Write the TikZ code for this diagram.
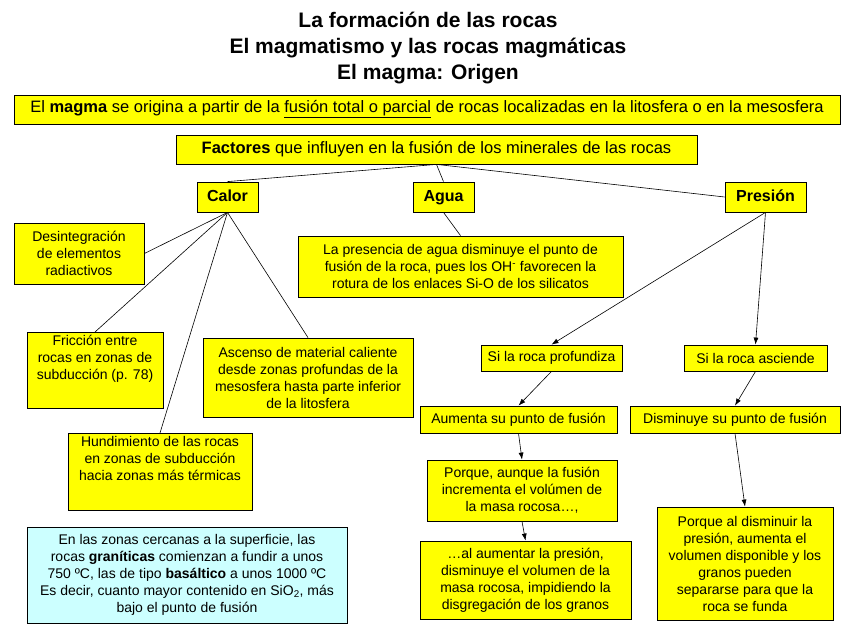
\documentclass[tikz,border=0pt]{standalone}
\usepackage{fontspec}
\setmainfont{Liberation Sans}
\usepackage{tikz}
\usetikzlibrary{positioning,arrows.meta}
\definecolor{mapyellow}{RGB}{255,255,0}
\definecolor{mapblue}{RGB}{204,255,255}
\newcommand{\txt}{\fontsize{14bp}{17bp}\selectfont}
\tikzset{
  box/.style={draw=black,line width=0.8bp,fill=mapyellow,align=center,
              font=\txt,inner sep=3bp},
  link/.style={line width=0.6bp,black},
  arr/.style={-{Latex[length=7bp,width=5bp]},line width=0.6bp,black}
}

\begin{document}
\begin{tikzpicture}[x=1bp,y=-1bp,
  head/.style={box,font=\fontsize{16bp}{19bp}\selectfont\bfseries,text height=12bp,text depth=3bp},
  note/.style={box,fill=mapblue}]
  \useasboundingbox (0,0) rectangle (851,636);
  \node[align=center,font=\fontsize{21bp}{26bp}\selectfont\bfseries] (title) at (428,48)
    {La formación de las rocas\\El magmatismo y las rocas magmáticas\\El magma: Origen};
  \node[box,font=\fontsize{16.5bp}{19bp}\selectfont,minimum width=826bp,minimum height=29bp] (magma) at (427,109.5)
    {El \textbf{magma} se origina a partir de la \underline{fusión total o parcial} de rocas localizadas en la litosfera o en la mesosfera};
  \node[box,font=\fontsize{16.5bp}{19bp}\selectfont,minimum width=521bp,minimum height=29bp] (fac) at (436.5,149.5)
    {\textbf{Factores} que influyen en la fusión de los minerales de las rocas};
  % factores
  \node[head,minimum width=61bp,minimum height=30bp] (calor) at (227.5,197) {Calor};
  \node[head,minimum width=61bp,minimum height=30bp] (agua) at (443.5,197) {Agua};
  \node[head,minimum width=81bp,minimum height=30bp] (presion) at (765.5,197) {Presión};
  % calor
  \node[box,minimum width=130bp,minimum height=61bp] (desint) at (79,253.5)
    {Desintegración\\de elementos\\radiactivos};
  \node[box,minimum width=136bp,text depth=26bp,anchor=north] (fric) at (95,332)
    {Fricción entre\\rocas en zonas de\\subducción (p. 78)};
  \node[box,minimum width=210bp,minimum height=79bp] (asc) at (308,377.5)
    {Ascenso de material caliente\\desde zonas profundas de la\\mesosfera hasta parte inferior\\de la litosfera};
  \node[box,minimum width=184bp,text depth=27bp,anchor=north] (hund) at (160,433)
    {Hundimiento de las rocas\\en zonas de subducción\\hacia zonas más térmicas};
  \node[note,minimum width=320bp,minimum height=96bp] (temp) at (187,575)
    {En las zonas cercanas a la superficie, las\\rocas \textbf{graníticas} comienzan a fundir a unos\\750 ºC, las de tipo \textbf{basáltico} a unos 1000 ºC\\Es decir, cuanto mayor contenido en SiO\textsubscript{2}, más\\bajo el punto de fusión};
  % agua
  \node[box,minimum width=325bp,minimum height=61bp] (aguatxt) at (460.5,266.5)
    {La presencia de agua disminuye el punto de\\fusión de la roca, pues los OH\textsuperscript{-} favorecen la\\rotura de los enlaces Si-O de los silicatos};
  % presion
  \node[box,minimum width=141bp,minimum height=26bp] (prof) at (551.5,358) {Si la roca profundiza};
  \node[box,minimum width=143bp,minimum height=26bp] (sube) at (755.5,358) {Si la roca asciende};
  \node[box,minimum width=197bp,minimum height=27bp] (aum) at (518.5,419.5) {Aumenta su punto de fusión};
  \node[box,minimum width=210bp,minimum height=27bp] (dism) at (735,419.5) {Disminuye su punto de fusión};
  \node[box,minimum width=190bp,minimum height=61bp] (porq1) at (522,490.5)
    {Porque, aunque la fusión\\incrementa el volúmen de\\la masa rocosa…,};
  \node[box,minimum width=211bp,minimum height=78bp] (comp) at (525.5,580)
    {…al aumentar la presión,\\disminuye el volumen de la\\masa rocosa, impidiendo la\\disgregación de los granos};
  \node[box,minimum width=176bp,minimum height=113bp] (porq2) at (745,563.5)
    {Porque al disminuir la\\presión, aumenta el\\volumen disponible y los\\granos pueden\\separarse para que la\\roca se funda};
  % conectores
  \draw[link] (fac.south) -- (calor.north);
  \draw[link] (fac.south) -- (agua.north);
  \draw[link] (fac.south) -- (presion.west);
  \draw[link] (calor.south) -- (desint.east);
  \draw[link] (calor.south) -- (fric.north);
  \draw[link] (calor.south) -- (hund.north);
  \draw[link] (calor.south) -- (asc.north);
  \draw[link] (agua.south) -- (aguatxt.north);
  \draw[arr] (presion.south) -- (prof.north);
  \draw[arr] (presion.south) -- (sube.north);
  \draw[arr] (prof.south) -- (aum.north);
  \draw[arr] (sube.south) -- (dism.north);
  \draw[arr] (aum.south) -- (porq1.north);
  \draw[arr] (porq1.south) -- (comp.north);
  \draw[arr] (dism.south) -- (porq2.north);
\end{tikzpicture}
\end{document}
